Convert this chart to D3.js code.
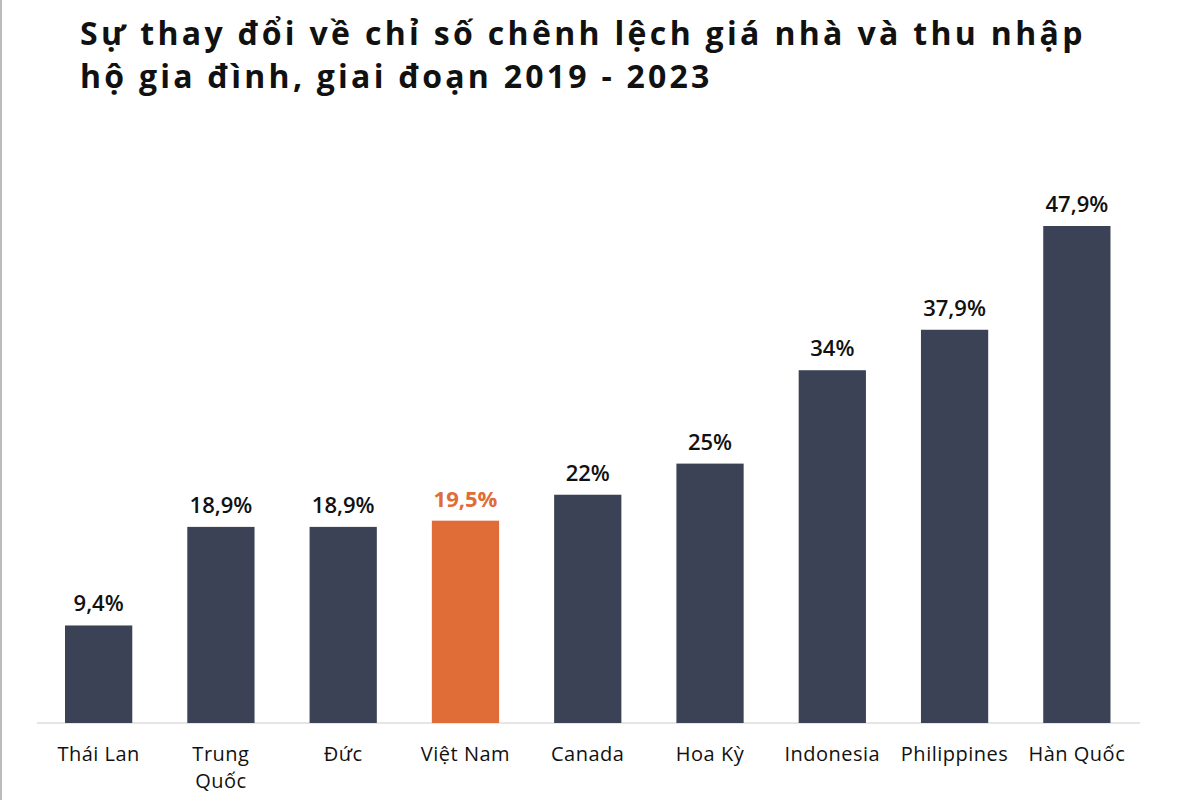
<!DOCTYPE html>
<html>
<head>
<meta charset="utf-8">
<script src="https://cdn.jsdelivr.net/npm/d3@7"></script>
<style>
body { margin: 0; background: #fff; font-family: "Open Sans", "Noto Sans", sans-serif; }
</style>
</head>
<body>
<div id="chart"></div>
<script>
// Data
var countries = ["Thái Lan", "Trung Quốc", "Đức", "Việt Nam", "Canada", "Hoa Kỳ", "Indonesia", "Philippines", "Hàn Quốc"];
var values = [9.4, 18.9, 18.9, 19.5, 22, 25, 34, 37.9, 47.9];
var valueLabels = ["9,4%", "18,9%", "18,9%", "19,5%", "22%", "25%", "34%", "37,9%", "47,9%"];
var titleLines = ["Sự thay đổi về chỉ số chênh lệch giá nhà và thu nhập", "hộ gia đình, giai đoạn 2019 - 2023"];
var highlight = "Việt Nam";

var width = 1200, height = 800;
var svg = d3.select("#chart").append("svg")
    .attr("width", width)
    .attr("height", height);

// left border
svg.append("line")
    .attr("x1", 1).attr("x2", 1).attr("y1", 0).attr("y2", height)
    .style("stroke", "#bbb").style("stroke-width", 2);

// Title
svg.selectAll(".title").data(titleLines).enter()
    .append("text")
    .attr("class", "title")
    .attr("x", 80)
    .attr("y", function(d, i) { return 45 + i * 43; })
    .style("font-size", "32px")
    .style("font-weight", "bold")
    .style("letter-spacing", "0.6px")
    .style("fill", "#111")
    .attr("textLength", function(d, i) { return i === 0 ? 1003 : 630; })
    .text(function(d) { return d; });

//Scales
var x = d3.scaleBand()
    .domain(countries)
    .range([37.5, 1138])
    .paddingInner(0.45)
    .paddingOuter(0.225);

var y = d3.scaleLinear()
    .domain([0, 47.9])
    .range([723, 226]);

// baseline
svg.append("line")
    .attr("x1", 37).attr("x2", 1140)
    .attr("y1", y(0)).attr("y2", y(0))
    .style("stroke", "#ccc").style("stroke-width", 1);

var data = countries.map(function(c, i) {
    return { name: c, value: values[i], label: valueLabels[i] };
});

svg.selectAll(".bar").data(data).enter()
    .append("rect")
    .attr("class", "bar")
    .attr("x", function(d) { return x(d.name); })
    .attr("width", x.bandwidth())
    .attr("y", function(d) { return y(d.value); })
    .attr("height", function(d) { return y(0) - y(d.value); })
    .style("fill", function(d) { return d.name === highlight ? "#e06c37" : "#3b4255"; });

svg.selectAll(".val").data(data).enter()
    .append("text")
    .attr("class", "val")
    .attr("x", function(d) { return x(d.name) + x.bandwidth() / 2; })
    .attr("y", function(d) { return y(d.value) - 14; })
    .attr("text-anchor", "middle")
    .style("font-size", "22px")
    .style("font-weight", function(d) { return d.name === highlight ? "bold" : "600"; })
    .style("fill", function(d) { return d.name === highlight ? "#e06c37" : "#111"; })
    .text(function(d) { return d.label; });

//Category labels, wrapped on space for "Trung Quốc"
svg.selectAll(".cat").data(data).enter()
    .append("text")
    .attr("class", "cat")
    .attr("text-anchor", "middle")
    .style("font-size", "20px")
    .style("letter-spacing", "0.5px")
    .style("fill", "#111")
    .each(function(d) {
        var lines = d.name === "Trung Quốc" ? ["Trung", "Quốc"] : [d.name];
        var t = d3.select(this);
        lines.forEach(function(l, i) {
            t.append("tspan")
                .attr("x", x(d.name) + x.bandwidth() / 2)
                .attr("y", 761 + i * 27)
                .text(l);
        });
    });
</script>
</body>
</html>
